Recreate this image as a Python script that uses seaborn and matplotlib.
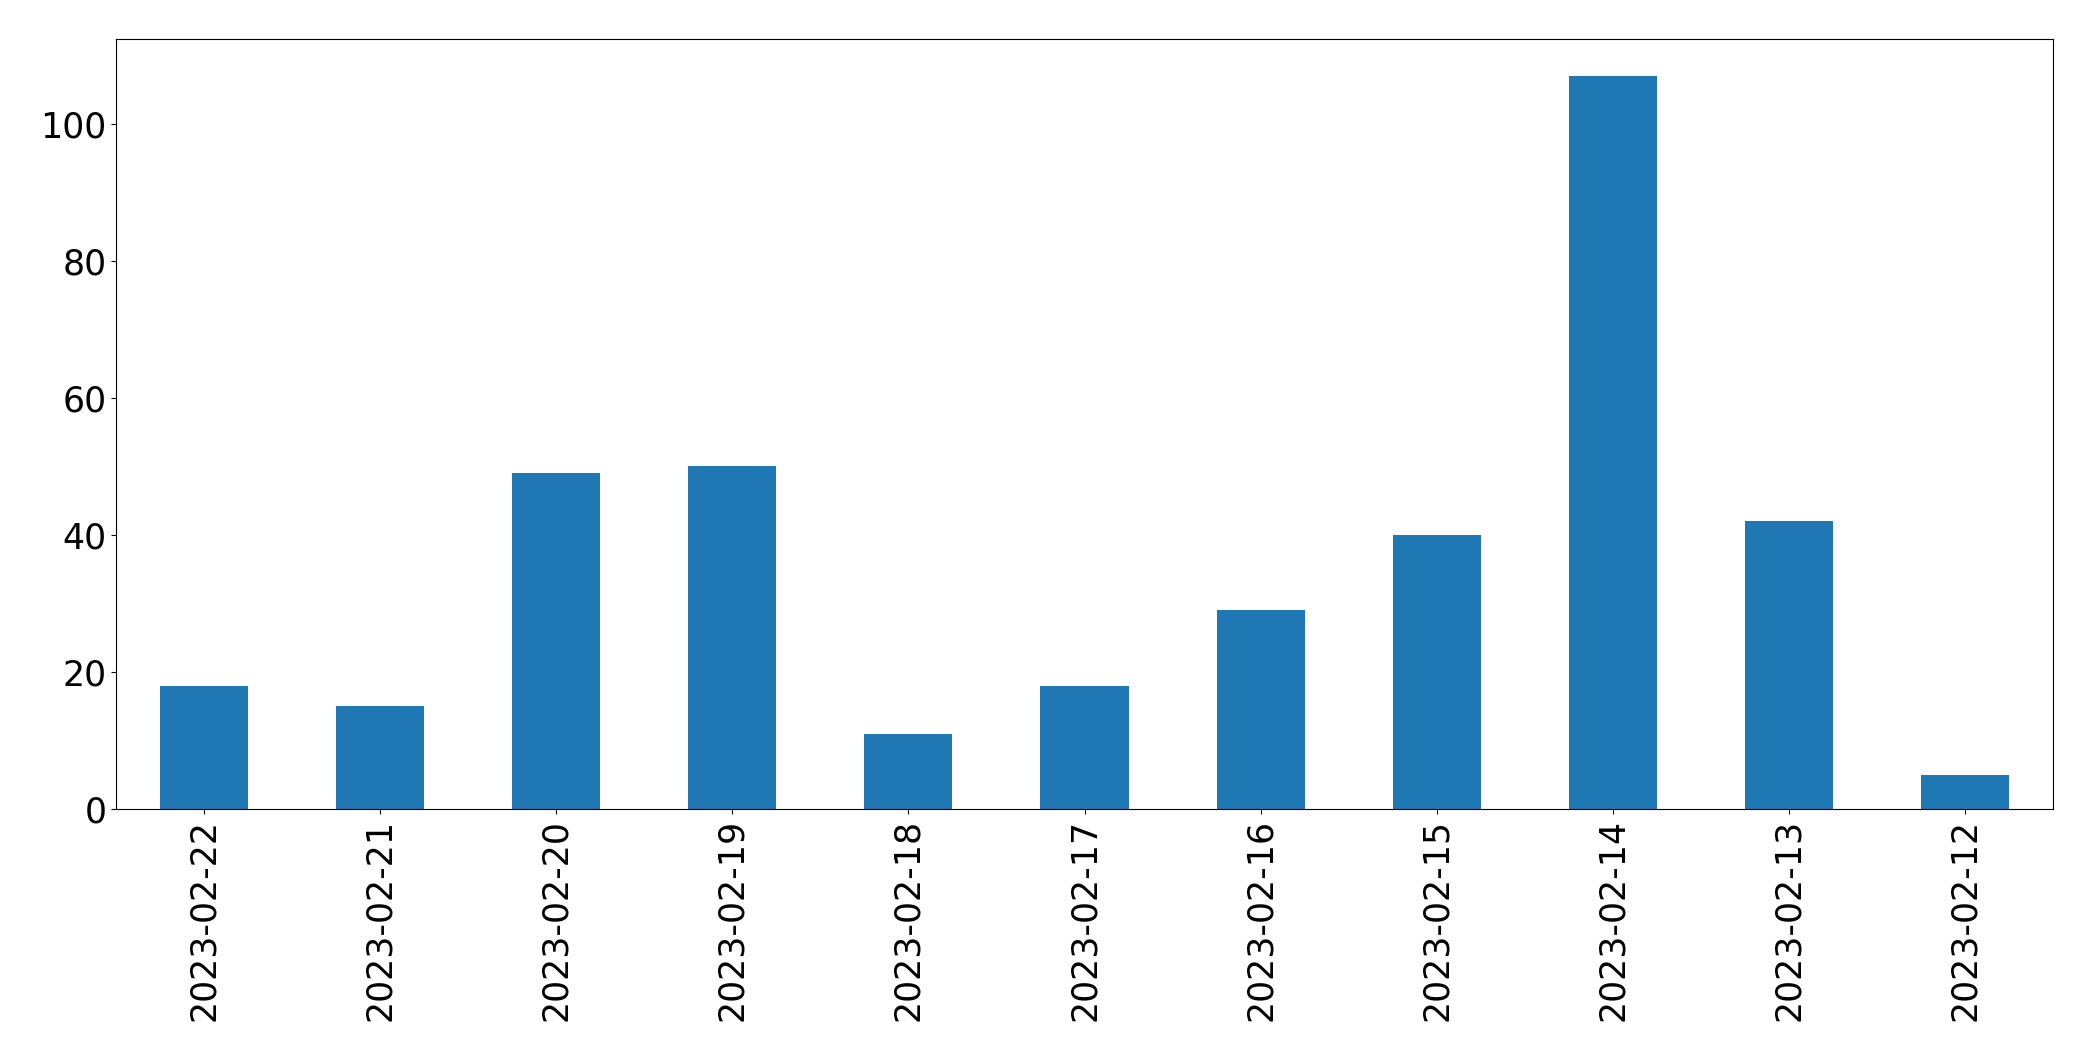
import pandas as pd
import seaborn as sns
import matplotlib
matplotlib.use('Agg')
import matplotlib.pyplot as plt

dates = ['2023-02-22', '2023-02-21', '2023-02-20', '2023-02-19', '2023-02-18',
         '2023-02-17', '2023-02-16', '2023-02-15', '2023-02-14', '2023-02-13',
         '2023-02-12']
counts = [18, 15, 49, 50, 11, 18, 29, 40, 107, 42, 5]

df = pd.DataFrame({'date': dates, 'count': counts})

fig = plt.figure(figsize=(20.93, 10.61), dpi=100)
ax = fig.add_axes([116/2093, 1 - 809/1061, (2053-116)/2093, (809-39)/1061])
sns.barplot(x='date', y='count', data=df, ax=ax, color='#1f77b4',
            saturation=1, width=0.5, order=dates, linewidth=0)
ax.set_xlim(-0.5, len(dates) - 0.5)
ax.set_ylim(0, max(counts) * 1.05)
ax.set_xlabel('')
ax.set_ylabel('')
ax.tick_params(axis='both', labelsize=25)
ax.tick_params(axis='x', labelrotation=90)
for s in ax.spines.values():
    s.set_color('black')
fig.savefig('out.png', dpi=100)
